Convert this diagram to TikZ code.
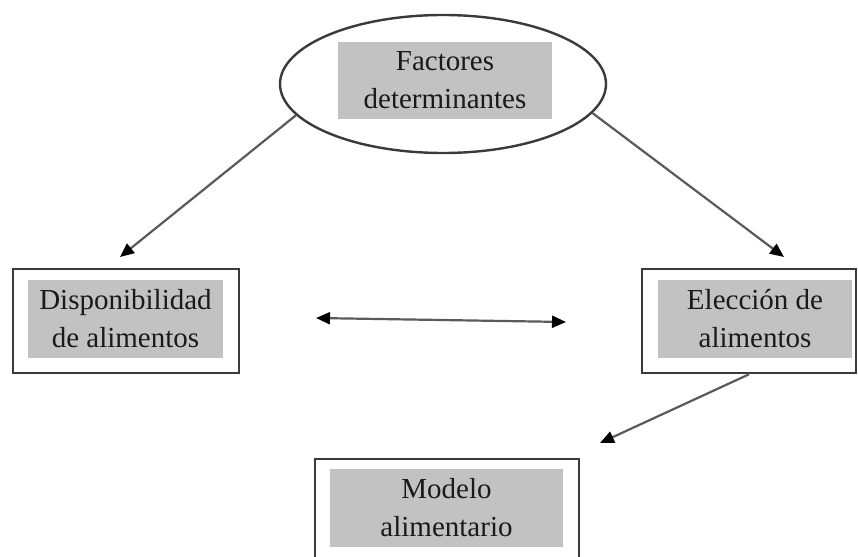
\documentclass[tikz,border=0pt]{standalone}
\usepackage{fontspec}
\setmainfont{Liberation Serif}
\usetikzlibrary{arrows.meta,shapes.geometric}

\definecolor{frame}{HTML}{3A3A3A}
\definecolor{shade}{HTML}{C2C2C2}
\definecolor{wire}{HTML}{5A5A5A}
\definecolor{ink}{HTML}{1A1A1A}

\tikzset{
  outerbox/.style={draw=frame, line width=2.6pt, fill=white, inner sep=0pt},
  ovalbox/.style={ellipse, draw=frame, line width=2.4pt, fill=white, inner sep=0pt},
  label/.style={fill=shade, inner sep=0pt, align=center, text=ink,
    font=\fontsize{29}{38}\selectfont},
  tipshape/.style={},
  link/.style={draw=wire, line width=2.2pt,
    -{Triangle[length=14pt, width=12pt, color=black]}},
  twoway/.style={draw=wire, line width=2.2pt,
    {Triangle[length=14pt, width=12pt, color=black]}-{Triangle[length=14pt, width=12pt, color=black]}}
}

\begin{document}
\begin{tikzpicture}[x=1pt, y=-1pt]
  \clip (0,0) rectangle (858,556);
  \fill[white] (0,0) rectangle (858,556);

  % top ellipse with its shaded label
  \node[ovalbox, minimum width=326pt, minimum height=138pt] (fact) at (443,84) {};
  \node[label, minimum width=214pt, minimum height=77pt] (factlbl) at (445,80.5)
    {Factores\\determinantes};

  % left box
  \node[outerbox, minimum width=226pt, minimum height=104pt] (disp) at (126,321) {};
  \node[label, minimum width=195pt, minimum height=78pt] (displbl) at (125.5,319)
    {Disponibilidad\\de alimentos};

  % right box
  \node[outerbox, minimum width=214pt, minimum height=104pt] (elec) at (749,321) {};
  \node[label, minimum width=194pt, minimum height=78pt] (eleclbl) at (755,319)
    {Elección de\\alimentos};

  % bottom box (runs past the lower edge)
  \node[outerbox, minimum width=264pt, minimum height=120pt] (mod) at (447,519) {};
  \node[label, minimum width=233pt, minimum height=78pt] (modlbl) at (446.5,508)
    {Modelo\\alimentario};

  % arrow end points
  \coordinate (tipL) at (120,257);
  \coordinate (tipR) at (784,257);
  \coordinate (pairL) at (316,318);
  \coordinate (pairR) at (566,322);
  \coordinate (tipB) at (600,443);

  % connectors
  \draw[link] (fact.192.4) -- (tipL);
  \draw[link] (fact.349.5) -- (tipR);
  \draw[twoway] (pairL) -- (pairR);
  \draw[link] (elec.south) -- (tipB);
\end{tikzpicture}
\end{document}
